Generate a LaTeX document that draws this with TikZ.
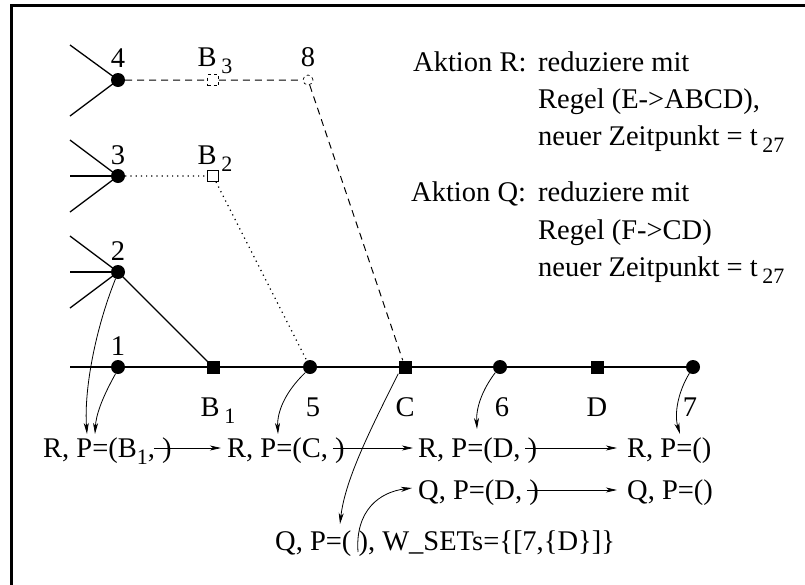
\documentclass[tikz,border=0pt]{standalone}
\usepackage{fontspec}
\setmainfont{Liberation Serif}
\usetikzlibrary{arrows.meta}
\newcommand\sbs[1]{\raisebox{-7pt}{\fontsize{22}{22}\selectfont #1}}
\begin{document}
\begin{tikzpicture}[x=1pt,y=-1pt,
  every node/.style={font=\fontsize{28.5}{34}\selectfont},
  dot/.style={circle,fill,inner sep=0pt,minimum size=14pt},
  sq/.style={rectangle,fill,inner sep=0pt,minimum size=13pt},
  hsq/.style={rectangle,draw,inner sep=0pt,minimum size=11pt,line width=0.8pt},
  hci/.style={circle,draw,dashed,inner sep=0pt,minimum size=10pt,line width=0.7pt},
  lbl/.style={anchor=base,inner sep=0pt},
  txt/.style={anchor=base west,inner sep=0pt},
  edge/.style={line width=1.3pt},
  dsh/.style={line width=1pt,dash pattern=on 7pt off 5pt},
  dtd/.style={line width=1.2pt,dash pattern=on 1.2pt off 4pt},
  arr/.style={line width=0.8pt,-{Stealth[length=11pt,width=5pt,inset=3pt]}},
]
\useasboundingbox (0,0) rectangle (805,584);
\draw[line width=3pt] (11,590) -- (11,5) -- (810,5);

% nodes
\node[dot] (n4) at (118,80) {};
\node[hsq,dashed] (b3) at (213,80) {};
\node[hci] (n8) at (308,80) {};
\node[dot] (n3) at (118,176) {};
\node[hsq] (b2) at (213,176) {};
\node[dot] (n2) at (118,272) {};
\node[dot] (n1) at (118,367) {};
\node[sq] (b1) at (213,367) {};
\node[dot] (n5) at (310,367) {};
\node[sq] (c) at (405,367) {};
\node[dot] (n6) at (500,367) {};
\node[sq] (d) at (597,367) {};
\node[dot] (n7) at (693,367) {};

% labels
\node[lbl] (l4) at (118,67) {4};
\node[lbl] (lb3) at (215,66) {B\,\sbs{3}};
\node[lbl] (l8) at (308,66) {8};
\node[lbl] (l3) at (118,164) {3};
\node[lbl] (lb2) at (215,164) {B\,\sbs{2}};
\node[lbl] (l2) at (118,260) {2};
\node[lbl] (l1) at (118,355) {1};
\node[lbl] (lb1) at (218,416) {B\,\sbs{1}};
\node[lbl] (l5) at (313,416) {5};
\node[lbl] (lc) at (405,416) {C};
\node[lbl] (l6) at (502,416) {6};
\node[lbl] (ld) at (597,416) {D};
\node[lbl] (l7) at (690,416) {7};

% free ends of incoming lines
\coordinate (s0) at (70,367);
\coordinate (a4) at (70,45);  \coordinate (c4) at (70,116);
\coordinate (a3) at (70,140); \coordinate (m3) at (70,176); \coordinate (c3) at (70,212);
\coordinate (a2) at (70,236); \coordinate (m2) at (70,272); \coordinate (c2) at (70,308);

\draw[edge] (a4) -- (n4.center) -- (c4);
\draw[edge] (a3) -- (n3.center) -- (c3);
\draw[edge] (m3) -- (n3.center);
\draw[edge] (a2) -- (n2.center) -- (c2);
\draw[edge] (m2) -- (n2.center);
\draw[edge] (n2.center) -- (b1.center);
\draw[edge] (s0) -- (n1.center);
\draw[line width=1.8pt] (n1.center) -- (b1.center);
\draw[edge] (b1.center) -- (n5.center) -- (c.center) -- (n6.center) -- (d.center) -- (n7.center);

\draw[dsh] (n4) -- (b3) -- (n8) -- (c);
\draw[dtd] (n3) -- (b2) -- (n5);

% right text
\node[txt] (ar) at (413,71) {Aktion R:};
\node[txt] (ar1) at (538,71) {reduziere mit};
\node[txt] (ar2) at (538,108) {Regel (E->ABCD),};
\node[txt] (ar3) at (538,145) {neuer Zeitpunkt = t\,\sbs{27}};
\node[txt] (aq) at (411,201) {Aktion Q:};
\node[txt] (aq1) at (538,201) {reduziere mit};
\node[txt] (aq2) at (538,239) {Regel (F->CD)};
\node[txt] (aq3) at (538,276) {neuer Zeitpunkt = t\,\sbs{27}};

% rows
\node[txt] (r1a) at (43,457) {R, P=(B\sbs{1}, )};
\node[txt] (r1b) at (227,457) {R, P=(C, )};
\node[txt] (r1c) at (418,457) {R, P=(D, )};
\node[txt] (r1d) at (627,457) {R, P=()};
\node[txt] (r2c) at (418,499) {Q, P=(D, )};
\node[txt] (r2d) at (627,499) {Q, P=()};
\node[txt] (r3) at (275,550) {Q, P=( ), W\_SETs=\{[7,\{D\}]\}};

\draw[arr] ([xshift=-18pt,yshift=9pt]r1a.base east) -- ([xshift=-6pt,yshift=9pt]r1b.base west);
\draw[arr] ([xshift=-12pt,yshift=9pt]r1b.base east) -- ([xshift=-5pt,yshift=9pt]r1c.base west);
\draw[arr] ([xshift=-12pt,yshift=9pt]r1c.base east) -- ([xshift=-10pt,yshift=9pt]r1d.base west);
\draw[arr] ([xshift=-12pt,yshift=9pt]r2c.base east) -- ([xshift=-10pt,yshift=9pt]r2d.base west);

% curved arrows
\coordinate (t2) at (87,434);
\coordinate (t1) at (95,434);
\coordinate (t5) at (278,434);
\coordinate (tc) at (340,524);
\coordinate (t6) at (477,429);
\coordinate (t7) at (680,434);
\coordinate (s3) at (358,552);
\coordinate (tq) at (412,488);
\draw[arr] (n2.250) .. controls (95,330) and (84,390) .. (t2);
\draw[arr] (n1.250) .. controls (102,398) and (96,415) .. (t1);
\draw[arr] (n5.230) .. controls (285,392) and (277,412) .. (t5);
\draw[arr] (c.225) .. controls (370,430) and (345,480) .. (tc);
\draw[arr] (n6.230) .. controls (482,390) and (476,408) .. (t6);
\draw[arr] (n7.240) .. controls (678,392) and (674,414) .. (t7);
\draw[arr] (s3) .. controls (355,510) and (380,492) .. (tq);
\end{tikzpicture}
\end{document}
